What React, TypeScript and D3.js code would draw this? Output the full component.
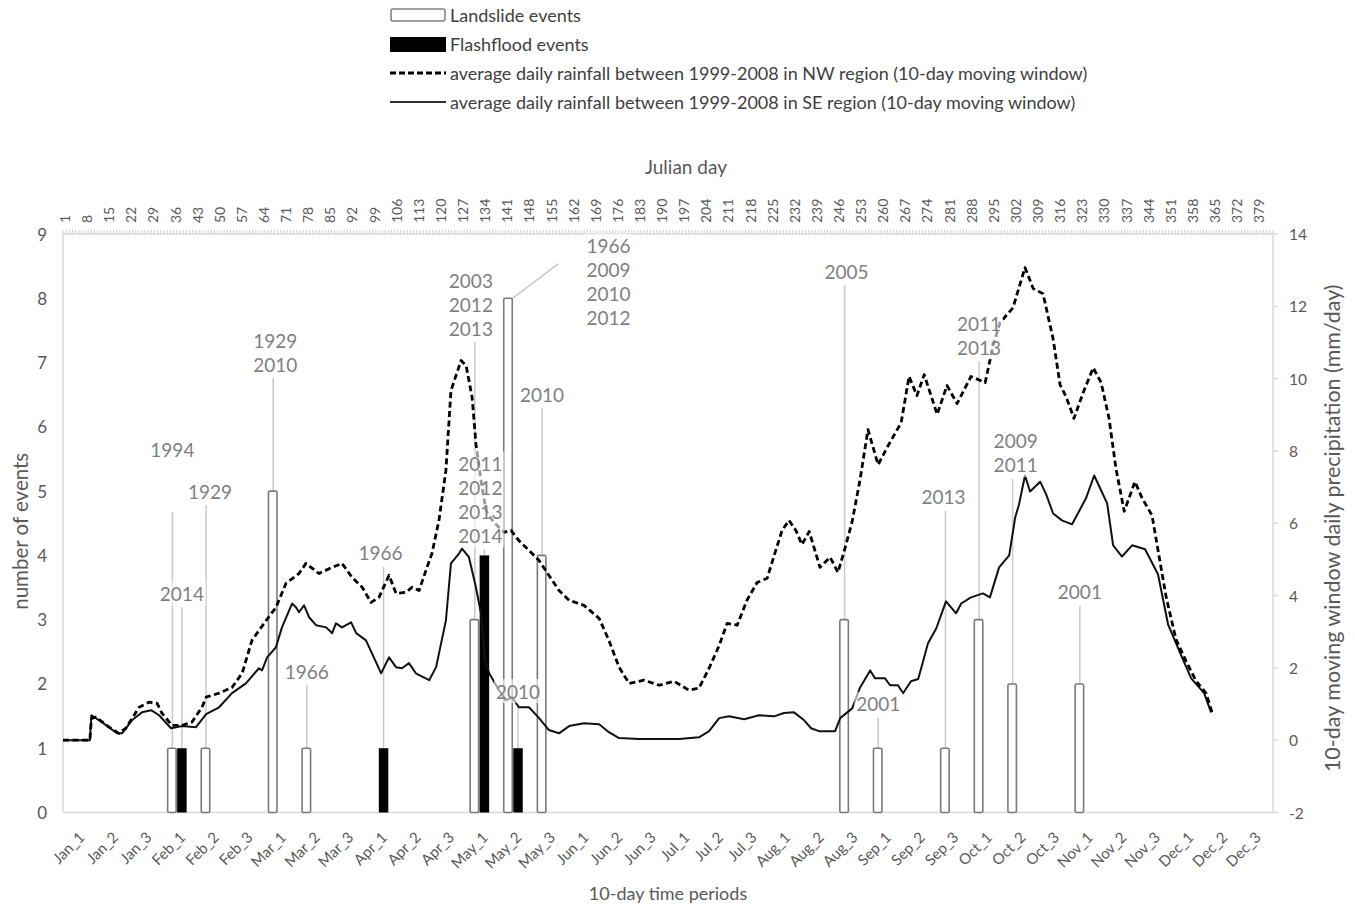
import React from "react";
import * as d3 from "d3";

// ---------- DATA ----------
const periods = [
  "Jan_1", "Jan_2", "Jan_3", "Feb_1", "Feb_2", "Feb_3", "Mar_1", "Mar_2", "Mar_3",
  "Apr_1", "Apr_2", "Apr_3", "May_1", "May_2", "May_3", "Jun_1", "Jun_2", "Jun_3",
  "Jul_1", "Jul_2", "Jul_3", "Aug_1", "Aug_2", "Aug_3", "Sep_1", "Sep_2", "Sep_3",
  "Oct_1", "Oct_2", "Oct_3", "Nov_1", "Nov_2", "Nov_3", "Dec_1", "Dec_2", "Dec_3",
];

const landslideCounts = [
  0, 0, 0, 1, 1, 0, 5, 1, 0,
  0, 0, 0, 3, 8, 4, 0, 0, 0,
  0, 0, 0, 0, 0, 3, 1, 0, 1,
  3, 2, 0, 2, 0, 0, 0, 0, 0,
];

const flashfloodCounts = [
  0, 0, 0, 1, 0, 0, 0, 0, 0,
  1, 0, 0, 4, 1, 0, 0, 0, 0,
  0, 0, 0, 0, 0, 0, 0, 0, 0,
  0, 0, 0, 0, 0, 0, 0, 0, 0,
];

const landslideYears: Record<string, string[]> = {
  Feb_1: ["1994"],
  Feb_2: ["1929"],
  Mar_1: ["1929", "2010"],
  Mar_2: ["1966"],
  May_1: ["2003", "2012", "2013"],
  May_2: ["1966", "2009", "2010", "2012"],
  May_3: ["2010"],
  Aug_3: ["2005"],
  Sep_1: ["2001"],
  Sep_3: ["2013"],
  Oct_1: ["2011", "2013"],
  Oct_2: ["2009", "2011"],
  Nov_1: ["2001"],
};

const flashfloodYears: Record<string, string[]> = {
  Feb_1: ["2014"],
  Apr_1: ["1966"],
  May_1: ["2011", "2012", "2013", "2014"],
  May_2: ["2010"],
};

const julianDayTicks = [
  1, 8, 15, 22, 29, 36, 43, 50, 57, 64, 71, 78, 85, 92, 99, 106, 113, 120, 127, 134,
  141, 148, 155, 162, 169, 176, 183, 190, 197, 204, 211, 218, 225, 232, 239, 246, 253,
  260, 267, 274, 281, 288, 295, 302, 309, 316, 323, 330, 337, 344, 351, 358, 365, 372, 379,
];

const leftTicks = [0, 1, 2, 3, 4, 5, 6, 7, 8, 9];
const rightTicks = [-2, 0, 2, 4, 6, 8, 10, 12, 14];

// [julian day, mm/day] NW region, 10-day moving window
const nwRain: [number, number][] = [
  [1, 0], [9.5, 0], [10, 0.6], [11.4, 0.64], [15.6, 0.36], [18.7, 0.19], [20.9, 0.33],
  [25.1, 0.91], [28.2, 1.05], [30.8, 1.02], [32.3, 0.75], [35.5, 0.41], [38.7, 0.41],
  [41.8, 0.5], [45.0, 0.91], [46.3, 1.19], [50.4, 1.3], [54.5, 1.46], [57.7, 1.85],
  [60.8, 2.76], [65.3, 3.31], [68.4, 3.67], [71.6, 4.34], [75.7, 4.61], [77.9, 4.89],
  [82.0, 4.61], [86.2, 4.78], [89.3, 4.89], [92.5, 4.5], [95.7, 4.23], [98.5, 3.81],
  [101.0, 3.95], [104.2, 4.56], [106.4, 4.06], [109.6, 4.09], [111.5, 4.23], [113.7, 4.14],
  [115.9, 4.7], [117.8, 5.17], [120.0, 6.08], [122.2, 7.46], [123.8, 9.67], [127.0, 10.5],
  [128.6, 10.36], [130.5, 9.48], [131.7, 8.2], [133.3, 7.18], [134.9, 6.35], [137.4, 6.02],
  [140.6, 5.75], [142.8, 5.8], [145.3, 5.52], [148.5, 5.25], [151.7, 4.97], [154.8, 4.56],
  [158.0, 4.14], [161.2, 3.87], [165.9, 3.73], [170.7, 3.37], [173.8, 2.76], [177.0, 2.02],
  [180.2, 1.57], [184.9, 1.66], [189.7, 1.52], [194.4, 1.63], [199.2, 1.38], [202.3, 1.44],
  [205.5, 1.99], [208.7, 2.62], [211.2, 3.23], [214.4, 3.18], [217.5, 3.87], [220.7, 4.36],
  [223.9, 4.48], [226.1, 5.11], [228.6, 5.8], [230.8, 6.08], [233.0, 5.8], [234.9, 5.41],
  [237.2, 5.77], [240.6, 4.78], [243.8, 5.06], [246.3, 4.64], [248.5, 5.3], [250.8, 6.05],
  [253.3, 7.21], [255.8, 8.59], [259.0, 7.62], [262.2, 8.15], [266.3, 8.78], [268.8, 10.06],
  [271.3, 9.53], [273.6, 10.11], [277.7, 9.01], [280.8, 9.81], [284.0, 9.31], [288.4, 10.06],
  [292.9, 9.89], [295.4, 10.91], [297.6, 11.55], [301.7, 11.96], [305.5, 13.07], [308.1, 12.49],
  [311.2, 12.35], [314.4, 11.1], [316.6, 9.83], [318.5, 9.5], [321.0, 8.9], [323.9, 9.61],
  [327.1, 10.3], [329.6, 9.89], [332.1, 8.9], [334.3, 7.51], [336.9, 6.33], [340.3, 7.15],
  [342.6, 6.69], [345.7, 6.22], [347.9, 5.11], [350.2, 3.95], [353.3, 2.79], [356.5, 2.18],
  [359.7, 1.63], [362.8, 1.3], [364.7, 0.77],
];

// [julian day, mm/day] SE region, 10-day moving window
const seRain: [number, number][] = [
  [1, 0], [9.5, 0], [10, 0.69], [13.3, 0.5], [18.1, 0.19], [19.7, 0.19], [22.8, 0.55],
  [26.0, 0.77], [28.9, 0.83], [31.4, 0.69], [35.2, 0.33], [38.7, 0.39], [43.1, 0.36],
  [46.3, 0.72], [50.4, 0.91], [54.5, 1.3], [58.9, 1.57], [63.0, 1.99], [64.0, 1.93],
  [65.6, 2.29], [68.4, 2.57], [70.3, 3.12], [73.5, 3.78], [74.8, 3.67], [75.7, 3.54],
  [77.3, 3.73], [78.9, 3.4], [81.1, 3.18], [84.3, 3.12], [86.2, 2.96], [87.4, 3.23],
  [89.3, 3.12], [92.2, 3.26], [93.8, 2.96], [96.9, 2.76], [98.8, 2.4], [101.7, 1.85],
  [104.2, 2.29], [106.4, 2.02], [108.3, 1.99], [110.5, 2.13], [112.7, 1.85], [116.9, 1.66],
  [119.1, 2.02], [122.2, 3.31], [123.8, 4.89], [126.4, 5.17], [127.3, 5.3], [129.5, 5.06],
  [131.7, 4.23], [133.3, 3.51], [134.6, 2.21], [135.9, 1.85], [139.0, 1.38], [141.2, 1.1],
  [143.1, 1.19], [145.3, 0.91], [148.5, 0.91], [151.7, 0.61], [154.8, 0.28], [158.0, 0.19],
  [161.2, 0.39], [165.9, 0.47], [170.7, 0.44], [173.8, 0.22], [177.0, 0.06], [183.3, 0.03],
  [196.0, 0.03], [202.3, 0.08], [205.5, 0.25], [208.7, 0.61], [211.8, 0.66], [216.6, 0.58],
  [221.3, 0.69], [226.1, 0.66], [229.2, 0.75], [232.4, 0.77], [235.6, 0.55], [237.8, 0.33],
  [240.3, 0.25], [245.4, 0.25], [247.0, 0.61], [250.8, 0.88], [253.3, 1.46], [256.5, 1.93],
  [258.0, 1.71], [261.2, 1.71], [262.8, 1.52], [265.3, 1.52], [266.9, 1.3], [269.4, 1.63],
  [271.7, 1.69], [274.8, 2.68], [277.4, 3.09], [280.5, 3.84], [283.7, 3.51], [285.3, 3.78],
  [288.4, 3.95], [292.2, 4.06], [294.4, 3.95], [297.3, 4.78], [300.5, 5.11], [302.4, 6.16],
  [303.6, 6.52], [305.5, 7.32], [307.1, 6.88], [310.3, 7.15], [312.2, 6.8], [314.4, 6.27],
  [317.2, 6.08], [320.4, 5.97], [324.8, 6.69], [327.4, 7.32], [329.9, 6.85], [331.5, 6.55],
  [333.4, 5.39], [336.2, 5.08], [339.4, 5.39], [343.5, 5.28], [347.6, 4.59], [350.8, 3.2],
  [354.9, 2.35], [358.1, 1.71], [362.2, 1.3], [364.4, 0.77],
];

// ---------- LAYOUT (label placement, in left-axis event units) ----------
type LabelPos = {
  series: "landslide" | "flash";
  period: string;
  y: number;
  dx?: number;
  from?: number;
  diagonal?: boolean;
};
const labelLayout: LabelPos[] = [
  { series: "landslide", period: "Feb_1", y: 5.64, from: 4.67 },
  { series: "flash", period: "Feb_1", y: 3.41 },
  { series: "landslide", period: "Feb_2", y: 5.0, dx: 4 },
  { series: "landslide", period: "Mar_1", y: 7.35, dx: 2 },
  { series: "landslide", period: "Mar_2", y: 2.2 },
  { series: "flash", period: "Apr_1", y: 4.04, dx: -3 },
  { series: "landslide", period: "May_1", y: 8.28, dx: -4 },
  { series: "flash", period: "May_1", y: 5.43, dx: -4 },
  { series: "landslide", period: "May_2", y: 8.82, dx: 100, diagonal: true },
  { series: "flash", period: "May_2", y: 1.89 },
  { series: "landslide", period: "May_3", y: 6.51 },
  { series: "landslide", period: "Aug_3", y: 8.42, dx: 2 },
  { series: "landslide", period: "Sep_1", y: 1.69 },
  { series: "landslide", period: "Sep_3", y: 4.91, dx: -2 },
  { series: "landslide", period: "Oct_1", y: 7.61 },
  { series: "landslide", period: "Oct_2", y: 5.78, dx: 3 },
  { series: "landslide", period: "Nov_1", y: 3.44 },
];

const FONT = "Lato, 'Open Sans', sans-serif";
const AXIS_GREY = "#595959";
const FRAME = "#d9d9d9";

export default function App() {
  const top = 234;
  const bottom = 812.5;
  const left = 63;
  const right = 1273;

  const xBand = d3.scaleBand<string>().domain(periods).range([59.5, 1269.5]);
  const bw = 9.5;
  const center = (p: string) => (xBand(p) as number) + xBand.bandwidth() / 2;
  const xDay = d3.scaleLinear().domain([1, 384]).range([left, right]);
  const yL = d3.scaleLinear().domain([0, 9]).range([bottom, top]);
  const yR = d3.scaleLinear().domain([-2, 14]).range([bottom, top]);

  const line = d3
    .line<[number, number]>()
    .x((d) => xDay(d[0]))
    .y((d) => yR(d[1]));

  const dayHatch = d3.range(1, 385);

  const lineH = 24;

  return (
    <svg
      width={1355}
      height={908}
      style={{ position: "absolute", left: 0, top: 0, background: "#fff" }}
      fontFamily={FONT}
    >
      <rect x={0} y={0} width={1355} height={908} fill="#fff" />

      {/* Legend */}
      <g fontSize={18} fill="#404040">
        <rect x={391} y={9} width={54} height={12} fill="#fff" stroke="#7f7f7f" strokeWidth={1.5} rx={2} />
        <text x={450} y={15} dominantBaseline="central">Landslide events</text>
        <rect x={390} y={37} width={56} height={15} fill="#000" />
        <text x={450} y={44} dominantBaseline="central">Flashflood events</text>
        <line x1={390} x2={446} y1={73} y2={73} stroke="#000" strokeWidth={2.8} strokeDasharray="6,3" />
        <text x={450} y={73} dominantBaseline="central">
          average daily rainfall between 1999-2008 in NW region (10-day moving window)
        </text>
        <line x1={390} x2={446} y1={102} y2={102} stroke="#333" strokeWidth={2} />
        <text x={450} y={102} dominantBaseline="central">
          average daily rainfall between 1999-2008 in SE region (10-day moving window)
        </text>
      </g>

      {/* Frame */}
      <line x1={left} x2={left} y1={top} y2={bottom} stroke={FRAME} strokeWidth={1.5} />
      <line x1={right} x2={right} y1={top} y2={bottom} stroke={FRAME} strokeWidth={1.5} />
      <line x1={left} x2={right} y1={bottom} y2={bottom} stroke={FRAME} strokeWidth={1.5} />
      <line x1={left} x2={right} y1={top} y2={top} stroke={FRAME} strokeWidth={1.5} />
      {dayHatch.map((d) => (
        <line key={d} x1={xDay(d)} x2={xDay(d)} y1={top} y2={top - 4} stroke="#d0d0d0" strokeWidth={1} />
      ))}

      {/* Top axis: Julian day */}
      <g fontSize={14} fill={AXIS_GREY}>
        {julianDayTicks.map((d) => (
          <text
            key={d}
            transform={`translate(${xDay(d) + 1.5},${223}) rotate(-90)`}
            textAnchor="start"
            dominantBaseline="central"
          >
            {d}
          </text>
        ))}
      </g>
      <text x={686} y={166} fontSize={19} fill={AXIS_GREY} textAnchor="middle" dominantBaseline="central">
        Julian day
      </text>

      {/* Left axis */}
      <g fontSize={17} fill={AXIS_GREY}>
        {leftTicks.map((t) => (
          <text key={t} x={47} y={yL(t)} textAnchor="end" dominantBaseline="central">
            {t}
          </text>
        ))}
      </g>
      <text
        transform={`translate(20,${(top + bottom) / 2 + 8}) rotate(-90)`}
        fontSize={20.5}
        fill={AXIS_GREY}
        textAnchor="middle"
        dominantBaseline="central"
      >
        number of events
      </text>

      {/* Right axis */}
      <g fontSize={15.5} fill={AXIS_GREY}>
        {rightTicks.map((t) => (
          <g key={t}>
            <line x1={right} x2={right + 5} y1={yR(t)} y2={yR(t)} stroke={FRAME} strokeWidth={1.5} />
            <text x={1289} y={yR(t)} textAnchor="start" dominantBaseline="central">
              {t}
            </text>
          </g>
        ))}
      </g>
      <text
        transform={`translate(1332,${(top + bottom) / 2 + 5}) rotate(-90)`}
        fontSize={21.5}
        fill={AXIS_GREY}
        textAnchor="middle"
        dominantBaseline="central"
      >
        10-day moving window daily precipitation (mm/day)
      </text>

      {/* Bottom axis */}
      <g fontSize={15} fill={AXIS_GREY}>
        {periods.map((p) => (
          <text
            key={p}
            transform={`translate(${center(p) + 5},${834}) rotate(-45)`}
            textAnchor="end"
            dominantBaseline="central"
          >
            {p}
          </text>
        ))}
      </g>
      <text x={668} y={893} fontSize={18} fill={AXIS_GREY} textAnchor="middle" dominantBaseline="central">
        10-day time periods
      </text>

      {/* Label connectors */}
      <g stroke="#c8c8c8" strokeWidth={1.5}>
        {labelLayout.map((l, i) => {
          const yrs = l.series === "landslide" ? landslideYears[l.period] : flashfloodYears[l.period];
          const idx = periods.indexOf(l.period);
          const cnt = l.series === "landslide" ? landslideCounts[idx] : flashfloodCounts[idx];
          const bx = l.series === "landslide" ? center(l.period) - bw / 2 : center(l.period) + bw / 2;
          const y0 = yL(l.y);
          const lx = bx + (l.dx ?? 0);
          if (l.diagonal) {
            return <line key={i} x1={lx - 50} y1={y0 + 18} x2={bx + 4} y2={yL(cnt)} />;
          }
          const yStart = l.from !== undefined ? yL(l.from) : y0 + (yrs.length - 1) * lineH + 14;
          return <line key={i} x1={bx} x2={bx} y1={yStart} y2={yL(cnt)} />;
        })}
      </g>

      {/* Bars */}
      {periods.map((p, i) =>
        landslideCounts[i] > 0 ? (
          <rect
            key={"ls" + p}
            x={center(p) - bw}
            y={yL(landslideCounts[i])}
            width={bw - 1}
            height={bottom - yL(landslideCounts[i])}
            fill="#fff"
            stroke="#7a7a7a"
            strokeWidth={1.6}
            rx={1.5}
          />
        ) : null
      )}
      {periods.map((p, i) =>
        flashfloodCounts[i] > 0 ? (
          <rect
            key={"ff" + p}
            x={center(p)}
            y={yL(flashfloodCounts[i])}
            width={bw}
            height={bottom - yL(flashfloodCounts[i])}
            fill="#000"
          />
        ) : null
      )}

      {/* Rainfall lines */}
      <path d={line(seRain) ?? ""} fill="none" stroke="#111" strokeWidth={2} strokeLinejoin="round" />
      <path
        d={line(nwRain) ?? ""}
        fill="none"
        stroke="#000"
        strokeWidth={2.8}
        strokeDasharray="6,3.5"
        strokeLinejoin="round"
      />

      {/* Data labels */}
      <g fontSize={19} fill="#7f7f7f">
        {labelLayout.map((l, i) => {
          const yrs = l.series === "landslide" ? landslideYears[l.period] : flashfloodYears[l.period];
          const bx = l.series === "landslide" ? center(l.period) - bw / 2 : center(l.period) + bw / 2;
          const y0 = yL(l.y);
          const lx = bx + (l.dx ?? 0);
          return (
            <g key={i}>
              <rect
                x={lx - 24}
                y={y0 - 12}
                width={48}
                height={yrs.length * lineH}
                fill="#fff"
                fillOpacity={0.6}
              />
              {yrs.map((yr, k) => (
                <text key={k} x={lx} y={y0 + k * lineH} textAnchor="middle" dominantBaseline="central">
                  {yr}
                </text>
              ))}
            </g>
          );
        })}
      </g>
    </svg>
  );
}
